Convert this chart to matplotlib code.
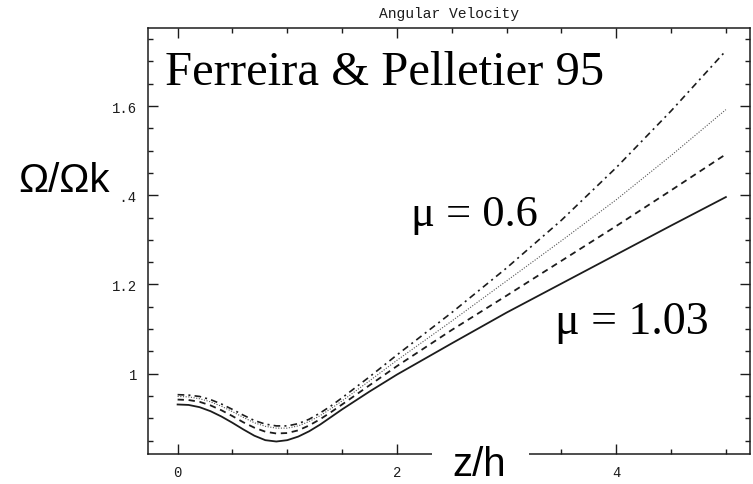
import numpy as np
import matplotlib.pyplot as plt
from matplotlib.ticker import MultipleLocator, FixedLocator, FixedFormatter
from matplotlib.patches import Rectangle

# height above the disc z/h and normalised angular velocity for four solutions
z = [0.0, 0.1, 0.2, 0.3, 0.4, 0.5, 0.6, 0.7, 0.8, 0.9, 1.0, 1.1, 1.2, 1.3,
     1.4, 1.5, 1.75, 2.0, 2.5, 3.0, 3.5, 4.0, 4.5, 5.0]

omega_mu103 = [0.931, 0.930, 0.925, 0.916, 0.904, 0.890, 0.875, 0.861, 0.851,
               0.848, 0.851, 0.859, 0.871, 0.886, 0.903, 0.920, 0.960, 0.998,
               1.068, 1.137, 1.202, 1.267, 1.332, 1.396]
omega_b = [0.942, 0.941, 0.937, 0.929, 0.918, 0.905, 0.891, 0.879, 0.870,
           0.866, 0.867, 0.873, 0.884, 0.898, 0.914, 0.931, 0.974, 1.017,
           1.098, 1.175, 1.253, 1.331, 1.411, 1.492]
omega_c = [0.949, 0.948, 0.944, 0.937, 0.927, 0.915, 0.902, 0.890, 0.882,
           0.878, 0.878, 0.883, 0.893, 0.906, 0.922, 0.939, 0.984, 1.030,
           1.118, 1.208, 1.298, 1.390, 1.489, 1.592]
omega_mu06 = [0.953, 0.952, 0.949, 0.942, 0.932, 0.920, 0.907, 0.895, 0.887,
              0.883, 0.883, 0.888, 0.898, 0.912, 0.928, 0.946, 0.993, 1.042,
              1.137, 1.237, 1.344, 1.462, 1.589, 1.724]

y_ticks = [1.0, 1.2, 1.4, 1.6]
y_tick_labels = ["1", "1.2", "1.4", "1.6"]
x_ticks = [0, 2, 4]
x_tick_labels = ["0", "2", "4"]

W, H = 753, 485
fig = plt.figure(figsize=(W / 100, H / 100), dpi=100)
ax = fig.add_axes([148 / W, 1 - 455 / H, 602 / W, 426 / H])

ink = "#1c1c1c"
ax.plot(z, omega_mu103, color=ink, lw=1.3)
ax.plot(z, omega_b, color=ink, lw=1.3, dashes=(3.5, 2.6))
ax.plot(z, omega_c, color="#555555", lw=0.8, dashes=(1.0, 1.4))
ax.plot(z, omega_mu06, color=ink, lw=1.2, dashes=(4.0, 2.5, 1.2, 2.5))

ax.set_xlim(-0.27, 5.22)
ax.set_ylim(0.82, 1.775)

mono = "Liberation Mono"
ax.xaxis.set_major_locator(FixedLocator(x_ticks))
ax.xaxis.set_major_formatter(FixedFormatter(x_tick_labels))
ax.xaxis.set_minor_locator(MultipleLocator(0.5))
ax.yaxis.set_major_locator(FixedLocator(y_ticks))
ax.yaxis.set_major_formatter(FixedFormatter(y_tick_labels))
ax.yaxis.set_minor_locator(MultipleLocator(0.05))
ax.tick_params(which="both", direction="in", top=True, right=True,
               color=ink, width=1.0)
ax.tick_params(which="major", length=7, labelsize=10, pad=8, labelcolor=ink)
ax.tick_params(which="minor", length=3.5)
for lab in ax.get_xticklabels() + ax.get_yticklabels():
    lab.set_fontfamily(mono)
for sp in ax.spines.values():
    sp.set_color(ink)
    sp.set_linewidth(1.1)

ax.set_title("Angular Velocity", fontfamily=mono, fontsize=10.5,
             color=ink, pad=8)

# annotations on top of the plot
fig.text(165 / W, 1 - 85 / H, "Ferreira & Pelletier 95",
         fontfamily="Liberation Serif", fontsize=35, color="black",
         ha="left", va="baseline")
fig.text(411 / W, 1 - 226 / H, "\u03bc = 0.6",
         fontfamily="Liberation Serif", fontsize=32, color="black",
         ha="left", va="baseline")
fig.text(555 / W, 1 - 334 / H, "\u03bc = 1.03",
         fontfamily="Liberation Serif", fontsize=33, color="black",
         ha="left", va="baseline")

fig.text(18 / W, 1 - 192 / H, "\u03a9/\u03a9k",
         fontfamily="Liberation Sans", fontsize=29, color="black",
         ha="left", va="baseline",
         bbox=dict(facecolor="white", edgecolor="none", pad=8))

fig.patches.append(Rectangle((432 / W, 0), 97 / W, 45 / H,
                             transform=fig.transFigure, facecolor="white",
                             edgecolor="none", zorder=5))
fig.text(452 / W, 1 - 476 / H, "z/h", fontfamily="Liberation Sans",
         fontsize=29, color="black", ha="left", va="baseline", zorder=6)

fig.savefig("out.png", dpi=100, facecolor="white")
